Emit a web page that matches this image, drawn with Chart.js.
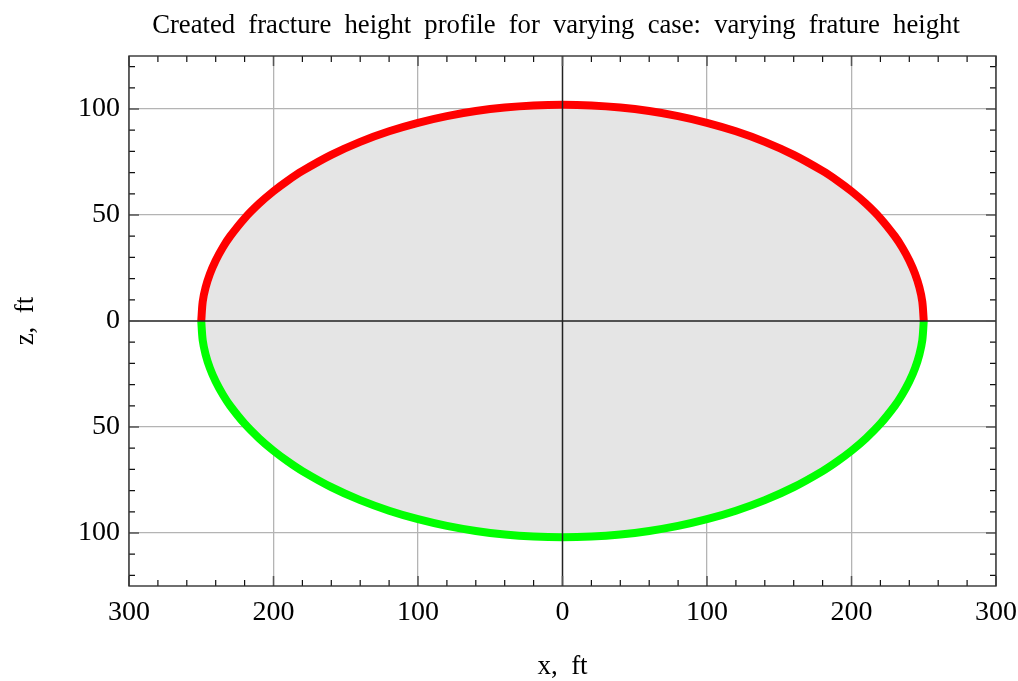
<!DOCTYPE html>
<html>
<head>
<meta charset="utf-8">
<script src="https://cdn.jsdelivr.net/npm/chart.js@4.4.1/dist/chart.umd.min.js"></script>
<style>
html,body{margin:0;padding:0;background:#fff;}
#wrap{width:1018px;height:681px;position:relative;}
</style>
</head>
<body>
<div id="wrap"><canvas id="c"></canvas></div>
<script>
// ---- data ----
const titleText = "Created fracture height profile for varying case: varying frature height";
const xAxisTitle = "x,  ft";
const zAxisTitle = "z,  ft";
const xTicks = [-300, -200, -100, 0, 100, 200, 300];
const zTicks = [-100, -50, 0, 50, 100];
const xRange = [-300, 300];
const zRange = [-125, 125];
const xMinorStep = 20;
const zMinorStep = 10;

// upper half of the fracture outline (red)
const upperX = [-250, -249, -247, -244, -240, -235, -230, -220, -210, -200, -190, -180, -160, -140, -120, -100, -80, -60, -40, -20, 0,
                20, 40, 60, 80, 100, 120, 140, 160, 180, 190, 200, 210, 220, 230, 235, 240, 244, 247, 249, 250];
const upperZ = [0, 9.11, 15.75, 22.21, 28.56, 34.80, 39.98, 48.45, 55.34, 61.2, 66.29, 70.79, 78.37, 84.51, 89.48, 93.48, 96.64, 99.02, 100.69, 101.67, 102,
                101.67, 100.69, 99.02, 96.64, 93.48, 89.48, 84.51, 78.37, 70.79, 66.29, 61.2, 55.34, 48.45, 39.98, 34.80, 28.56, 22.21, 15.75, 9.11, 0];
// lower half of the fracture outline (green)
const lowerX = upperX.slice();
const lowerZ = [0, -9.11, -15.75, -22.21, -28.56, -34.80, -39.98, -48.45, -55.34, -61.2, -66.29, -70.79, -78.37, -84.51, -89.48, -93.48, -96.64, -99.02, -100.69, -101.67, -102,
                -101.67, -100.69, -99.02, -96.64, -93.48, -89.48, -84.51, -78.37, -70.79, -66.29, -61.2, -55.34, -48.45, -39.98, -34.80, -28.56, -22.21, -15.75, -9.11, 0];

const FONT = "'Liberation Serif', 'Times New Roman', serif";

const toPts = (xs, ys) => xs.map((x, i) => ({x: x, y: ys[i]}));

const framePlugin = {
  id: 'framePlugin',
  afterDatasetsDraw(chart) {
    const ctx = chart.ctx;
    const a = chart.chartArea;
    const xs = chart.scales.x, ys = chart.scales.y;
    ctx.save();
    // zero axes on top
    ctx.strokeStyle = '#222';
    ctx.lineWidth = 1.5;
    ctx.beginPath();
    const x0 = xs.getPixelForValue(0), y0 = ys.getPixelForValue(0);
    ctx.moveTo(x0, a.top); ctx.lineTo(x0, a.bottom);
    ctx.moveTo(a.left, y0); ctx.lineTo(a.right, y0);
    ctx.stroke();
    // minor ticks
    ctx.strokeStyle = '#111';
    ctx.lineWidth = 1.2;
    ctx.beginPath();
    for (let v = xRange[0]; v <= xRange[1]; v += xMinorStep) {
      if (xTicks.includes(v)) continue;
      const p = xs.getPixelForValue(v);
      ctx.moveTo(p, a.bottom); ctx.lineTo(p, a.bottom - 6);
      ctx.moveTo(p, a.top); ctx.lineTo(p, a.top + 6);
    }
    for (let v = -120; v <= 120; v += zMinorStep) {
      if (zTicks.includes(v)) continue;
      const p = ys.getPixelForValue(v);
      ctx.moveTo(a.left, p); ctx.lineTo(a.left + 6, p);
      ctx.moveTo(a.right, p); ctx.lineTo(a.right - 6, p);
    }
    ctx.stroke();
    // major ticks
    ctx.strokeStyle = '#555';
    ctx.lineWidth = 1.5;
    ctx.beginPath();
    xTicks.forEach(v => {
      const p = xs.getPixelForValue(v);
      ctx.moveTo(p, a.bottom); ctx.lineTo(p, a.bottom - 10);
      ctx.moveTo(p, a.top); ctx.lineTo(p, a.top + 10);
    });
    zTicks.forEach(v => {
      const p = ys.getPixelForValue(v);
      ctx.moveTo(a.left, p); ctx.lineTo(a.left + 10, p);
      ctx.moveTo(a.right, p); ctx.lineTo(a.right - 10, p);
    });
    ctx.stroke();
    // frame
    ctx.strokeStyle = '#333';
    ctx.lineWidth = 1.4;
    ctx.strokeRect(a.left, a.top, a.right - a.left, a.bottom - a.top);
    ctx.restore();
  },
  afterDraw(chart) {
    const ctx = chart.ctx;
    const a = chart.chartArea;
    ctx.save();
    ctx.fillStyle = '#000';
    // title
    ctx.font = "26.7px " + FONT;
    if ('wordSpacing' in ctx) ctx.wordSpacing = '6.5px';
    ctx.textAlign = 'center';
    ctx.textBaseline = 'alphabetic';
    ctx.fillText(titleText, 556, 33);
    if ('wordSpacing' in ctx) ctx.wordSpacing = '0px';
    // x axis title
    ctx.font = "27px " + FONT;
    ctx.fillText(xAxisTitle, (a.left + a.right) / 2, 674);
    // z axis title
    ctx.translate(33, (a.top + a.bottom) / 2);
    ctx.rotate(-Math.PI / 2);
    ctx.textBaseline = 'alphabetic';
    ctx.fillText(zAxisTitle, 0, 0);
    ctx.restore();
  }
};

new Chart(document.getElementById('c'), {
  type: 'scatter',
  data: {
    datasets: [
      {
        data: toPts(upperX, upperZ),
        showLine: true,
        borderColor: '#ff0000',
        borderWidth: 8,
        backgroundColor: '#e5e5e5',
        fill: 'origin',
        pointRadius: 0,
        tension: 0.3,
        borderCapStyle: 'butt'
      },
      {
        data: toPts(lowerX, lowerZ),
        showLine: true,
        borderColor: '#00ff00',
        borderWidth: 8,
        backgroundColor: '#e5e5e5',
        fill: 'origin',
        pointRadius: 0,
        tension: 0.3,
        borderCapStyle: 'butt'
      }
    ]
  },
  options: {
    responsive: true,
    maintainAspectRatio: false,
    animation: false,
    layout: { padding: { top: 56, right: 22, left: 0, bottom: 0 } },
    plugins: { legend: { display: false }, tooltip: { enabled: false }, title: { display: false } },
    scales: {
      x: {
        type: 'linear',
        min: xRange[0], max: xRange[1],
        afterBuildTicks: s => { s.ticks = xTicks.map(v => ({value: v})); },
        afterFit: s => { s.height = 95; s.paddingLeft = 0; s.paddingRight = 0; },
        grid: {
          drawTicks: false,
          color: ctx => (ctx.tick && ctx.tick.value === 0) ? 'rgba(0,0,0,0)' : '#b4b4b4',
          lineWidth: 1.3
        },
        border: { display: false },
        ticks: {
          padding: 10,
          color: '#000',
          font: { family: FONT, size: 28 },
          maxRotation: 0,
          callback: v => String(Math.abs(v))
        }
      },
      y: {
        type: 'linear',
        min: zRange[0], max: zRange[1],
        afterBuildTicks: s => { s.ticks = zTicks.map(v => ({value: v})); },
        afterFit: s => { s.width = 129; s.paddingTop = 0; s.paddingBottom = 0; },
        grid: {
          drawTicks: false,
          color: ctx => (ctx.tick && ctx.tick.value === 0) ? 'rgba(0,0,0,0)' : '#b4b4b4',
          lineWidth: 1.3
        },
        border: { display: false },
        ticks: {
          padding: 9,
          color: '#000',
          font: { family: FONT, size: 28 },
          callback: v => String(Math.abs(v))
        }
      }
    }
  },
  plugins: [framePlugin]
});
</script>
</body>
</html>
